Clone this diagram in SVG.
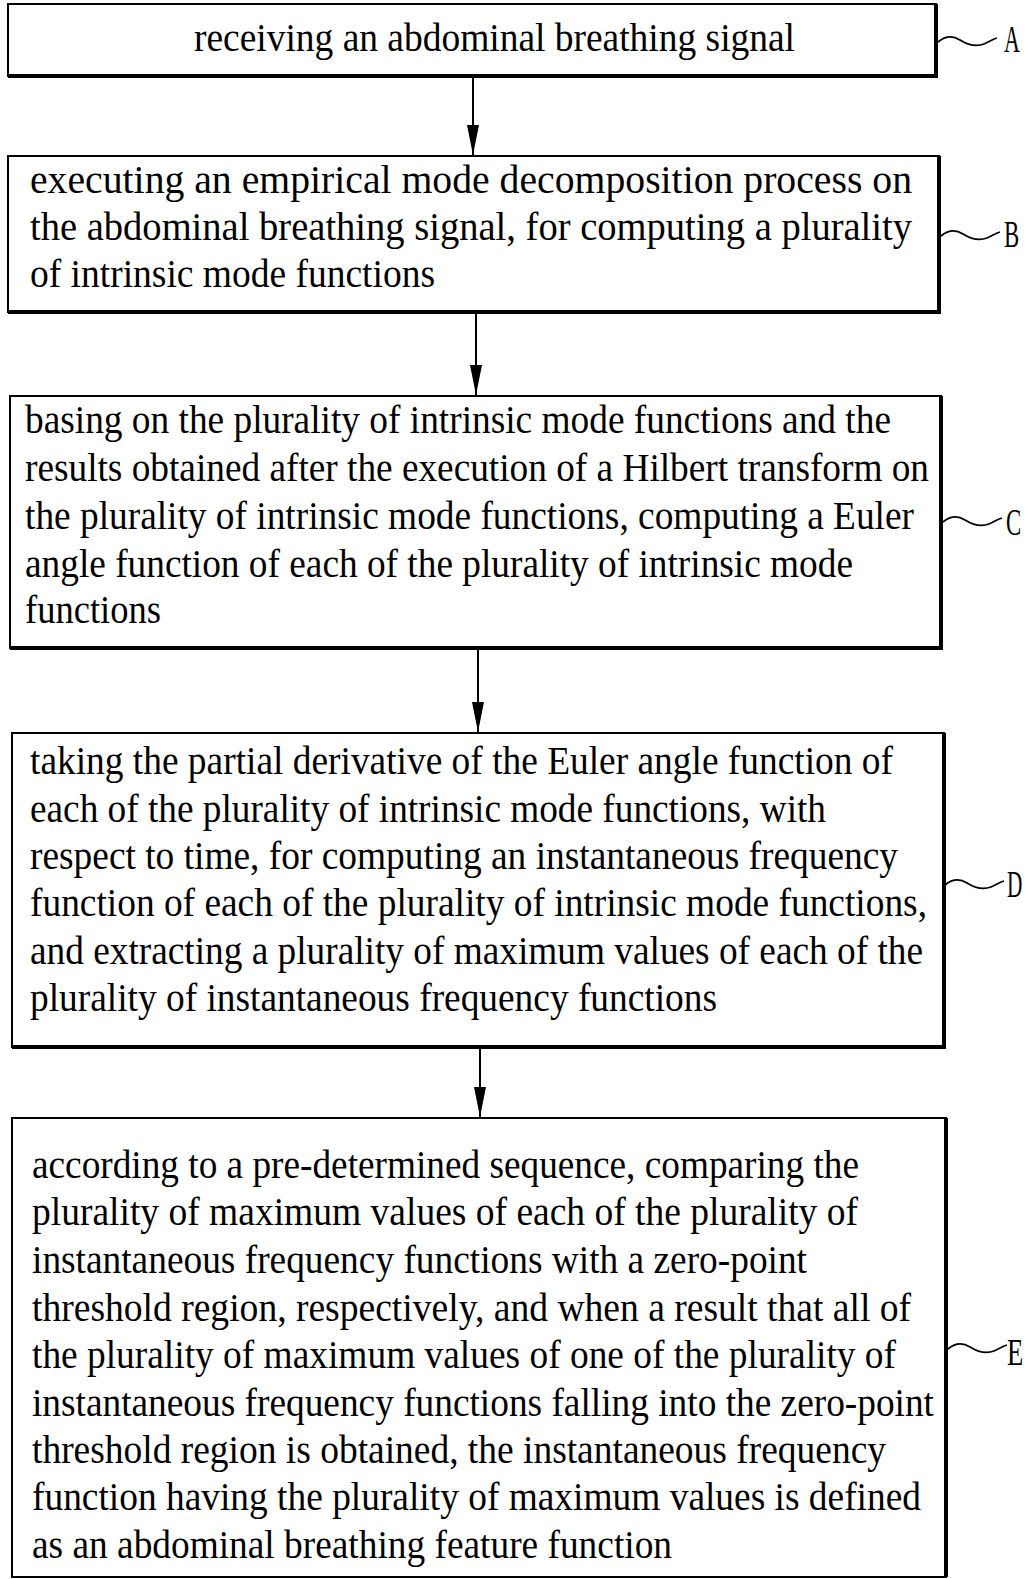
<svg xmlns="http://www.w3.org/2000/svg" width="1029" height="1579" viewBox="0 0 1029 1579">
<style>
.box{fill:#fff;stroke:#000;stroke-width:2}
.sh{stroke:#000;stroke-width:4;fill:none}
.t{font-family:"Liberation Serif","Times New Roman",serif;font-size:40px;fill:#000}
.lb{font-family:"Liberation Serif","Times New Roman",serif;font-size:38px;fill:#000}
.tl{fill:none;stroke:#000;stroke-width:1.8}
.c{stroke:#000;stroke-width:2;fill:none}
</style>
<defs>
<marker id="ah" markerWidth="30" markerHeight="12" refX="30" refY="6" orient="auto" markerUnits="userSpaceOnUse" viewBox="0 0 30 12">
<path d="M0 0 L30 6 L0 12 Z" fill="#000"/>
</marker>
<path id="tilde" d="M0 3 C6 -2 14 -4 22 1 C30 6 38 8 46 5 C51 3 55 0 59 -1"/>
</defs>
<g id="connectors">
<line class="c" x1="473" y1="78" x2="473" y2="155" marker-end="url(#ah)"/>
<line class="c" x1="476" y1="314" x2="476" y2="395" marker-end="url(#ah)"/>
<line class="c" x1="478" y1="650" x2="478" y2="732" marker-end="url(#ah)"/>
<line class="c" x1="480" y1="1049" x2="480" y2="1117" marker-end="url(#ah)"/>
</g>
<g id="nodeA">
<rect class="box" x="8" y="4" width="928" height="72"/>
<path class="sh" d="M8 76 H936 V4"/>
<text class="t" x="194" y="51" textLength="601" lengthAdjust="spacingAndGlyphs">receiving an abdominal breathing signal</text>
<use href="#tilde" class="tl" x="938" y="39"/>
<text class="lb" transform="translate(1004 52) scale(0.58 1)">A</text>
</g>
<g id="nodeB">
<rect class="box" x="8" y="156" width="931" height="156"/>
<path class="sh" d="M8 312 H939 V156"/>
<text class="t" x="30" y="193" textLength="882" lengthAdjust="spacingAndGlyphs">executing an empirical mode decomposition process on</text>
<text class="t" x="30" y="240" textLength="882" lengthAdjust="spacingAndGlyphs">the abdominal breathing signal, for computing a plurality</text>
<text class="t" x="30" y="287" textLength="405" lengthAdjust="spacingAndGlyphs">of intrinsic mode functions</text>
<use href="#tilde" class="tl" x="941" y="233"/>
<text class="lb" transform="translate(1004 247) scale(0.6 1)">B</text>
</g>
<g id="nodeC">
<rect class="box" x="10" y="396" width="931" height="252"/>
<path class="sh" d="M10 648 H941 V396"/>
<text class="t" x="25" y="433" textLength="866" lengthAdjust="spacingAndGlyphs">basing on the plurality of intrinsic mode functions and the</text>
<text class="t" x="25" y="481" textLength="904" lengthAdjust="spacingAndGlyphs">results obtained after the execution of a Hilbert transform on</text>
<text class="t" x="25" y="529" textLength="889" lengthAdjust="spacingAndGlyphs">the plurality of intrinsic mode functions, computing a Euler</text>
<text class="t" x="25" y="577" textLength="828" lengthAdjust="spacingAndGlyphs">angle function of each of the plurality of intrinsic mode</text>
<text class="t" x="25" y="623" textLength="136" lengthAdjust="spacingAndGlyphs">functions</text>
<use href="#tilde" class="tl" x="943" y="519"/>
<text class="lb" transform="translate(1006 535) scale(0.6 1)">C</text>
</g>
<g id="nodeD">
<rect class="box" x="12" y="733" width="932" height="314"/>
<path class="sh" d="M12 1047 H944 V733"/>
<text class="t" x="30" y="774" textLength="863" lengthAdjust="spacingAndGlyphs">taking the partial derivative of the Euler angle function of</text>
<text class="t" x="30" y="822" textLength="796" lengthAdjust="spacingAndGlyphs">each of the plurality of intrinsic mode functions, with</text>
<text class="t" x="30" y="869" textLength="868" lengthAdjust="spacingAndGlyphs">respect to time, for computing an instantaneous frequency</text>
<text class="t" x="30" y="916" textLength="897" lengthAdjust="spacingAndGlyphs">function of each of the plurality of intrinsic mode functions,</text>
<text class="t" x="30" y="964" textLength="893" lengthAdjust="spacingAndGlyphs">and extracting a plurality of maximum values of each of the</text>
<text class="t" x="30" y="1011" textLength="687" lengthAdjust="spacingAndGlyphs">plurality of instantaneous frequency functions</text>
<use href="#tilde" class="tl" x="945" y="882"/>
<text class="lb" transform="translate(1007 897) scale(0.56 1)">D</text>
</g>
<g id="nodeE">
<rect class="box" x="12" y="1118" width="934" height="459"/>
<path class="sh" d="M946 1118 V1577"/>
<text class="t" x="32" y="1178" textLength="827" lengthAdjust="spacingAndGlyphs">according to a pre-determined sequence, comparing the</text>
<text class="t" x="32" y="1225" textLength="826" lengthAdjust="spacingAndGlyphs">plurality of maximum values of each of the plurality of</text>
<text class="t" x="32" y="1273" textLength="775" lengthAdjust="spacingAndGlyphs">instantaneous frequency functions with a zero-point</text>
<text class="t" x="32" y="1321" textLength="879" lengthAdjust="spacingAndGlyphs">threshold region, respectively, and when a result that all of</text>
<text class="t" x="32" y="1368" textLength="864" lengthAdjust="spacingAndGlyphs">the plurality of maximum values of one of the plurality of</text>
<text class="t" x="32" y="1416" textLength="902" lengthAdjust="spacingAndGlyphs">instantaneous frequency functions falling into the zero-point</text>
<text class="t" x="32" y="1463" textLength="854" lengthAdjust="spacingAndGlyphs">threshold region is obtained, the instantaneous frequency</text>
<text class="t" x="32" y="1510" textLength="889" lengthAdjust="spacingAndGlyphs">function having the plurality of maximum values is defined</text>
<text class="t" x="32" y="1558" textLength="640" lengthAdjust="spacingAndGlyphs">as an abdominal breathing feature function</text>
<use href="#tilde" class="tl" x="948" y="1346"/>
<text class="lb" transform="translate(1007 1365) scale(0.7 1)">E</text>
</g>
</svg>
